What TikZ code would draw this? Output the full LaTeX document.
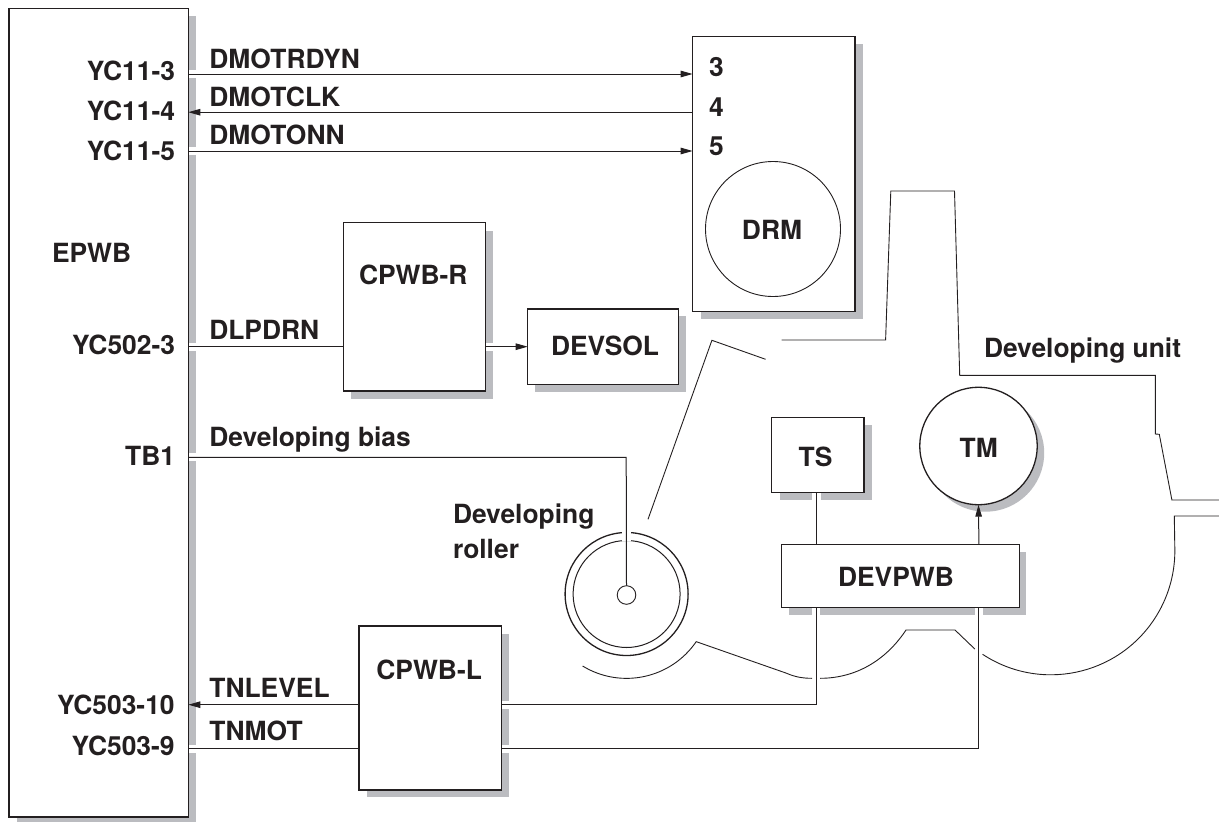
\documentclass[tikz,border=0pt]{standalone}
\usepackage{fontspec}
\setmainfont{TeX Gyre Heros}
\usetikzlibrary{arrows.meta}
\definecolor{ink}{HTML}{231F20}
\definecolor{shade}{HTML}{BBBCC0}
\tikzset{
  boxn/.style={draw=ink,line width=1.5pt,fill=white,inner sep=0pt,outer sep=0pt,rectangle},
  roundn/.style={draw=ink,inner sep=0pt,outer sep=0pt,circle},
  wire/.style={draw=ink,line width=1pt},
  arrowwire/.style={wire,-{Triangle[length=12pt,width=6.5pt]}},
  outline/.style={draw=ink,line width=0.9pt,line join=miter},
  txt/.style={text=ink,font=\fontsize{26.4}{30}\bfseries\selectfont,inner sep=0pt,outer sep=0pt},
  lbl/.style={txt,anchor=base west},
  rlbl/.style={txt,anchor=base east},
  clbl/.style={txt,anchor=base},
  shadowfill/.style={fill=shade},
  gapfill/.style={fill=white}
}
% name, x1, y1, x2, y2
\newcommand{\pwbox}[5]{\node[boxn,minimum width={#4-#2},minimum height={#5-#3}] (#1) at ({(#2+#4)/2},{(#3+#5)/2}) {};}
\begin{document}
\begin{tikzpicture}[x=1pt,y=-1pt]
\useasboundingbox (0,0) rectangle (1219,822);
% shadows
\fill[shadowfill] (16.5,16) rectangle (195.5,822);
\fill[shadowfill] (701,44) rectangle (863,319);
\fill[shadowfill] (351,230.7) rectangle (493,398.7);
\fill[shadowfill] (535,316) rectangle (686,391.7);
\fill[shadowfill] (367,634) rectangle (509,797.3);
\fill[shadowfill] (780,425) rectangle (871.7,500);
\fill[shadowfill] (789,552) rectangle (1025.7,615);
\fill[shadowfill] (985.5,453) circle[radius=58.7];
% gaps in the shadows where wires leave
\fill[gapfill] (188,70) rectangle (197,78.3);
\fill[gapfill] (188,147) rectangle (197,155);
\fill[gapfill] (188,342.7) rectangle (197,350.7);
\fill[gapfill] (188,453) rectangle (197,461);
\fill[gapfill] (188,744.7) rectangle (197,752.7);
\fill[gapfill] (485,342.7) rectangle (494,350.7);
\fill[gapfill] (501,700.7) rectangle (510,708.7);
\fill[gapfill] (501,744.7) rectangle (510,752.7);
\fill[gapfill] (811.5,492) rectangle (820.6,501);
\fill[gapfill] (812,607) rectangle (820,616);
\fill[gapfill] (975,607) rectangle (983,616);
% boxes
\pwbox{epwb}{9}{8.3}{188.3}{817}
\pwbox{drm}{692.7}{36.3}{855}{311.7}
\pwbox{cpwbr}{343.3}{222.7}{485.7}{391}
\pwbox{devsol}{527.7}{309}{678.6}{384.3}
\pwbox{cpwbl}{359}{626}{501.4}{790}
\pwbox{ts}{771.7}{417.7}{864}{492.7}
\pwbox{devpwb}{781.6}{544.7}{1019.3}{607.7}
% circles
\node[roundn,line width=0.9pt,minimum size=135pt] (drmc) at (773,229) {};
\node[roundn,line width=1.3pt,fill=white,minimum size=117.4pt] (tm) at (978.5,446) {};
\node[roundn,line width=1.3pt,minimum size=123pt] (rollero) at (626.6,594) {};
\node[roundn,line width=1pt,minimum size=107pt] (rolleri) at (626.6,594) {};
\node[roundn,line width=0.9pt,minimum size=18.6pt] (hub) at (626.5,595) {};
% coordinates of the signal rows
\coordinate (r3) at (0,74);
\coordinate (r4) at (0,112.2);
\coordinate (r5) at (0,151);
\coordinate (r502) at (0,346.7);
\coordinate (rtb) at (0,457.3);
\coordinate (rlev) at (0,704.7);
\coordinate (rmot) at (0,748.7);
\coordinate (bend1) at (816.4,704.7);
\coordinate (bend2) at (978.9,748.7);
\coordinate (bend3) at (626.2,457.3);
% connectors
\draw[arrowwire] (epwb.east |- r3) -- (drm.west |- r3);
\draw[arrowwire] (drm.west |- r4) -- (epwb.east |- r4);
\draw[arrowwire] (epwb.east |- r5) -- (drm.west |- r5);
\draw[wire] (epwb.east |- r502) -- (cpwbr.west |- r502);
\draw[arrowwire] (cpwbr.east |- r502) -- (devsol.west |- r502);
\draw[arrowwire] (cpwbl.west |- rlev) -- (epwb.east |- rlev);
\draw[wire] (epwb.east |- rmot) -- (cpwbl.west |- rmot);
\draw[wire] (cpwbl.east |- rlev) -- (bend1) -- (bend1 |- devpwb.south);
\draw[wire] (cpwbl.east |- rmot) -- (bend2) -- (bend2 |- devpwb.south);
\draw[wire] (bend1 |- ts.south) -- (bend1 |- devpwb.north);
\draw[arrowwire] (bend2 |- devpwb.north) -- (tm.south);
\draw[white,line width=9pt] (bend3 |- rollero.north) ++(0,-3) -- (bend3 |- rolleri.north) ++(0,3);
\draw[wire] (epwb.east |- rtb) -- (bend3) -- (hub.north);
% developing unit housing
\draw[outline] (781.6,340) -- (885.6,340) -- (890.8,191) -- (954.5,191) -- (959.7,375.3) -- (1155.4,375.3) -- (1155.4,434) -- (1159.3,434.3) -- (1171.9,500) -- (1219,500);
\draw[outline] (765.6,359.3) -- (711.9,340.3) -- (648,519.3);
\draw[outline] (582.6,666) arc[start angle=121.4,end angle=34.4,radius=84.4] -- (786.7,673.3) .. controls (795,677) and (803,678.3) .. (812,678.3);
\draw[outline] (820,678.3) .. controls (856,678.3) and (886,660.2) .. (906,630) -- (955,630) -- (974.8,649);
\draw[outline] (982.6,654.3) arc[start angle=123.4,end angle=0,radius=124] -- (1174.3,516) -- (1219,516);
% labels
\node[rlbl] (l1) at (175,80) {YC11-3};
\node[rlbl] (l2) at (175,120) {YC11-4};
\node[rlbl] (l3) at (175,160) {YC11-5};
\node[rlbl] (l4) at (175,354) {YC502-3};
\node[rlbl] (l5) at (175,465) {TB1};
\node[rlbl] (l6) at (174.6,714) {YC503-10};
\node[rlbl] (l7) at (174.6,755) {YC503-9};
\node[lbl] (l8) at (52,262) {EPWB};
\node[lbl] (s1) at (209.3,68.3) {DMOTRDYN};
\node[lbl] (s2) at (209.3,106) {DMOTCLK};
\node[lbl] (s3) at (209.3,144.3) {DMOTONN};
\node[lbl] (s4) at (209.3,339) {DLPDRN};
\node[lbl] (s5) at (209.3,446) {Developing bias};
\node[lbl] (s6) at (209.4,697.7) {TNLEVEL};
\node[lbl] (s7) at (209.4,740.7) {TNMOT};
\node[lbl] (p3) at (709,76.7) {3};
\node[lbl] (p4) at (709,116) {4};
\node[lbl] (p5) at (709,155.7) {5};
\node[clbl] (t1) at (772,239) {DRM};
\node[lbl] (t2) at (359,284) {CPWB-R};
\node[lbl] (t3) at (551,355.7) {DEVSOL};
\node[lbl] (t4) at (984,357.7) {Developing unit};
\node[clbl] (t5) at (815.6,466.7) {TS};
\node[clbl] (t6) at (978.7,457.7) {TM};
\node[clbl] (t7) at (896,586.7) {DEVPWB};
\node[lbl] (t8) at (453,523) {Developing};
\node[lbl] (t9) at (453,558) {roller};
\node[lbl] (t10) at (376.4,679.3) {CPWB-L};
\end{tikzpicture}
\end{document}
